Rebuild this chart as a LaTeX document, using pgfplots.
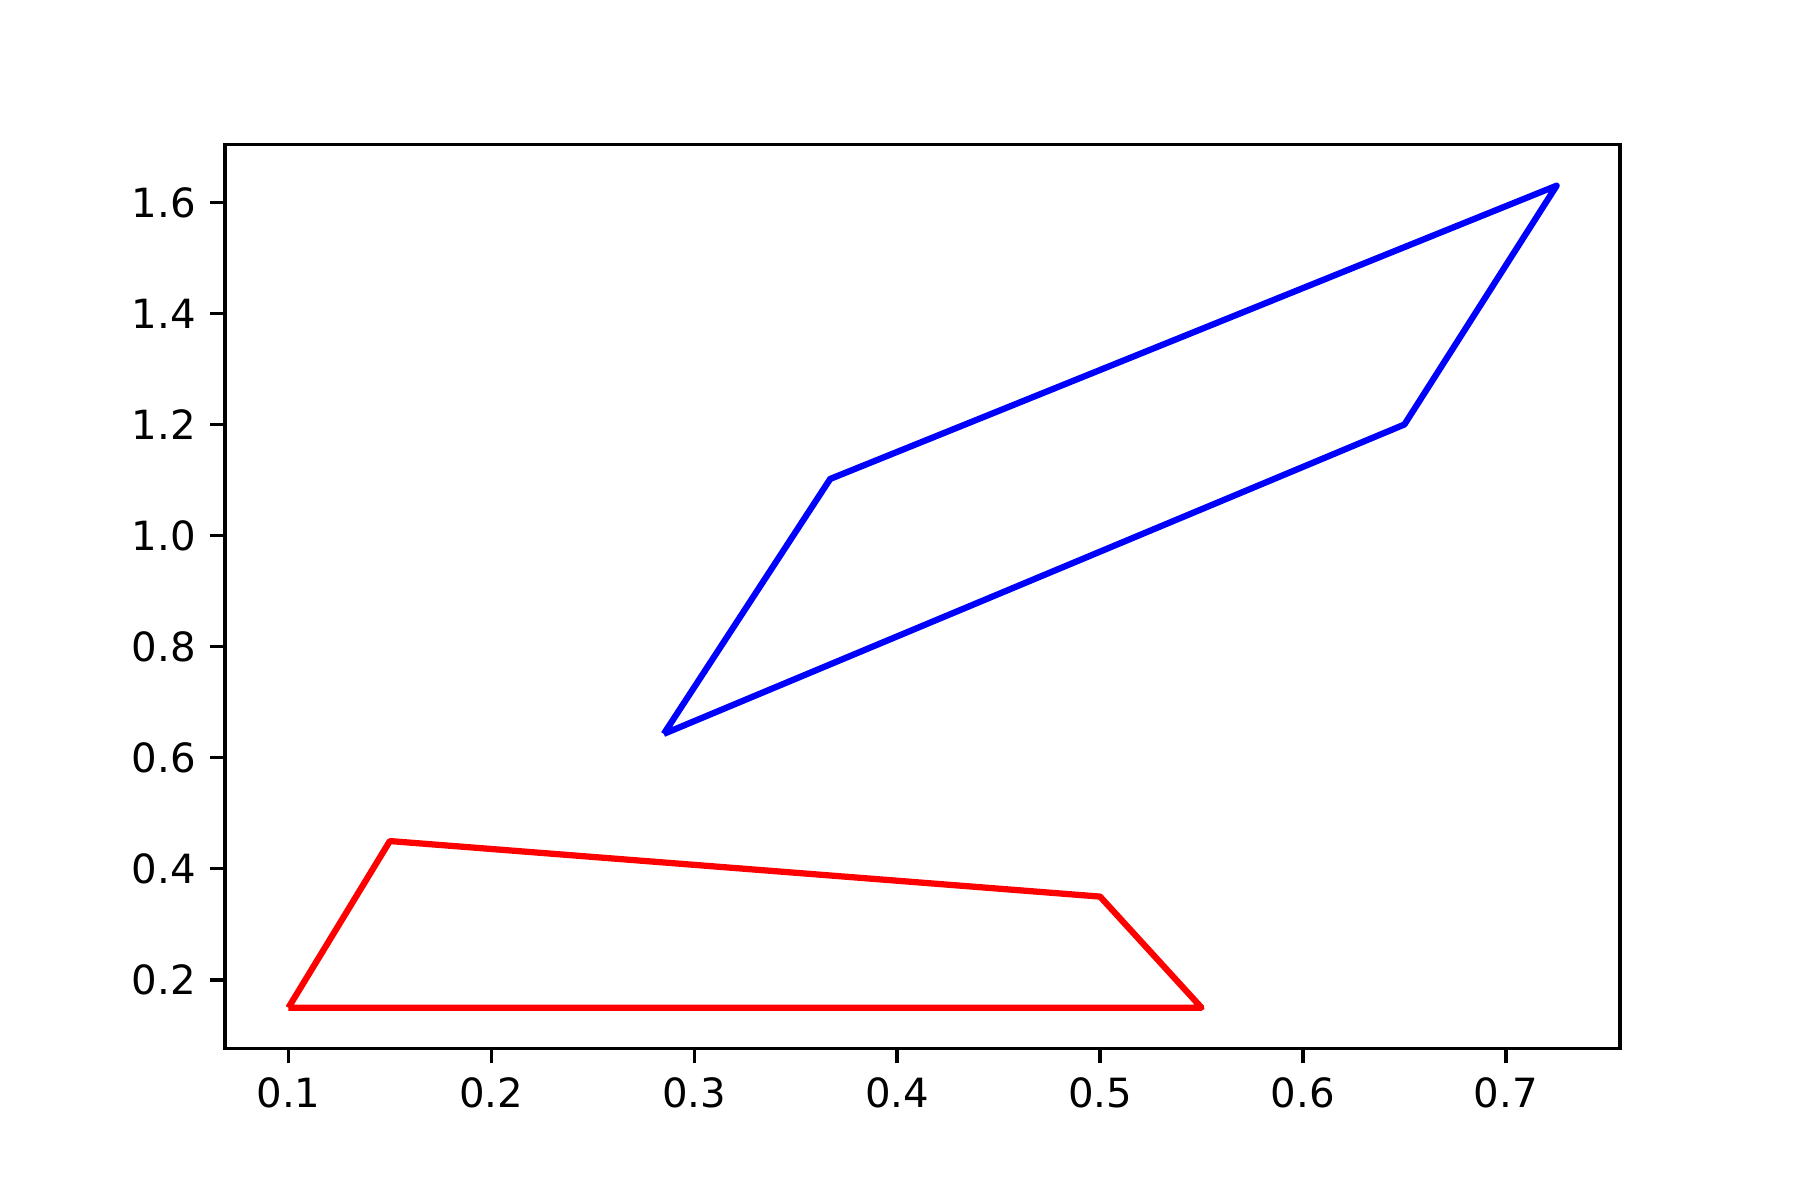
\documentclass[border=0pt]{standalone}
\usepackage{fontspec}
\setmainfont{DejaVu Sans}
\usepackage{pgfplots}
\pgfplotsset{compat=1.18}

\begin{document}
\begin{tikzpicture}
\begin{axis}[
    scale only axis,
    width=334.8bp, height=217bp,
    xmin=0.06875, xmax=0.75625,
    ymin=0.076, ymax=1.704,
    xtick={0.1,0.2,...,0.7},
    ytick={0.2,0.4,...,1.6},
    tick pos=left,
    tick align=outside,
    major tick length=3.5bp,
    every tick/.style={black, line width=0.8bp},
    axis line style={line width=0.8bp},
    /pgf/number format/assume math mode=true,
    /pgf/number format/.cd, fixed, fixed zerofill, precision=1, /pgfplots/.cd,
    tick label style={font=\fontsize{9.7}{12}\selectfont},
    xticklabel style={yshift=0bp},
    yticklabel style={xshift=0bp},
    name=ax,
]
% red quadrilateral
\addplot[color=red, line width=1.5bp, line join=round] coordinates {
    (0.1,0.15) (0.15,0.45) (0.5,0.35) (0.55,0.15) (0.1,0.15)
};
% blue quadrilateral
\addplot[color=blue, line width=1.5bp, line join=round] coordinates {
    (0.285,0.643) (0.367,1.102) (0.725,1.63) (0.65,1.2) (0.285,0.643)
};
\end{axis}
\path[use as bounding box] ([shift={(-54bp,-36bp)}]ax.south west) rectangle ([shift={(43.2bp,34.7bp)}]ax.north east);
\end{tikzpicture}
\end{document}
